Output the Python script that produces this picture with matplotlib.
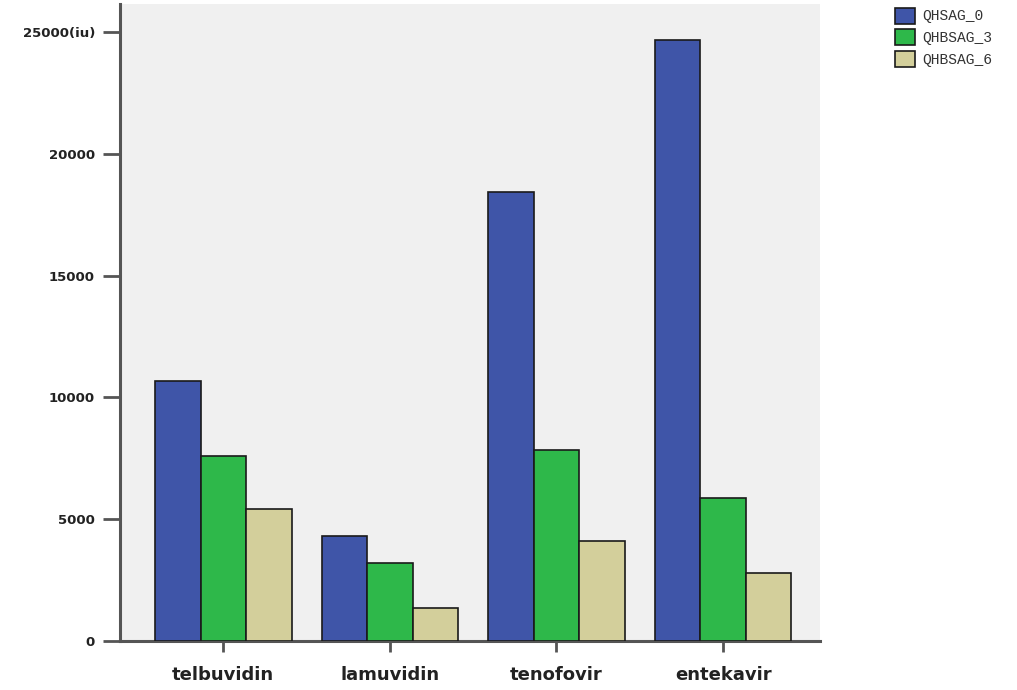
import matplotlib
matplotlib.use("Agg")
import matplotlib.pyplot as plt
import numpy as np

categories = ["telbuvidin", "lamuvidin", "tenofovir", "entekavir"]
series_names = ["QHSAG_0", "QHBSAG_3", "QHBSAG_6"]
qhsag_0 = [10680, 4310, 18450, 24690]
qhbsag_3 = [7600, 3200, 7850, 5880]
qhbsag_6 = [5420, 1360, 4110, 2790]
yticks = [0, 5000, 10000, 15000, 20000, 25000]
ytick_labels = ["0", "5000", "10000", "15000", "20000", "25000(iu)"]
colors = ["#3F55A8", "#2EB84A", "#D3CF9B"]

fig = plt.figure(figsize=(10.17, 6.9), dpi=100)
ax = fig.add_axes([0.118, 0.071, 0.688, 0.923])
ax.set_facecolor("#F0F0F0")

x = np.arange(len(categories))
w = 0.273
for i, (vals, name, c) in enumerate(zip([qhsag_0, qhbsag_3, qhbsag_6], series_names, colors)):
    ax.bar(x + (i - 1) * w, vals, width=w, color=c, edgecolor="#1a1a1a",
           linewidth=1.2, label=name, zorder=3)

ax.set_xlim(-0.62, 3.58)
ax.set_ylim(0, 26150)
ax.set_xticks(x)
ax.set_xticklabels(categories, fontsize=13, fontweight="bold", color="#222222")
ax.set_yticks(yticks)
ax.set_yticklabels(ytick_labels, fontsize=9.5, fontweight="bold", color="#222222")
ax.tick_params(axis="y", length=12, width=2, color="#555555", pad=6)
ax.tick_params(axis="x", length=8, width=2, color="#555555", pad=10)

for s in ["top", "right"]:
    ax.spines[s].set_visible(False)
for s in ["left", "bottom"]:
    ax.spines[s].set_linewidth(2.2)
    ax.spines[s].set_color("#555555")

leg = fig.legend(loc="upper left", bbox_to_anchor=(0.867, 1.008),
                 prop={"family": "Liberation Mono", "size": 10.5},
                 frameon=False, handlelength=1.4, handleheight=1.3,
                 handletextpad=0.45, labelspacing=0.4)
for t in leg.get_texts():
    t.set_color("#333333")

fig.savefig("out.png", dpi=100)
